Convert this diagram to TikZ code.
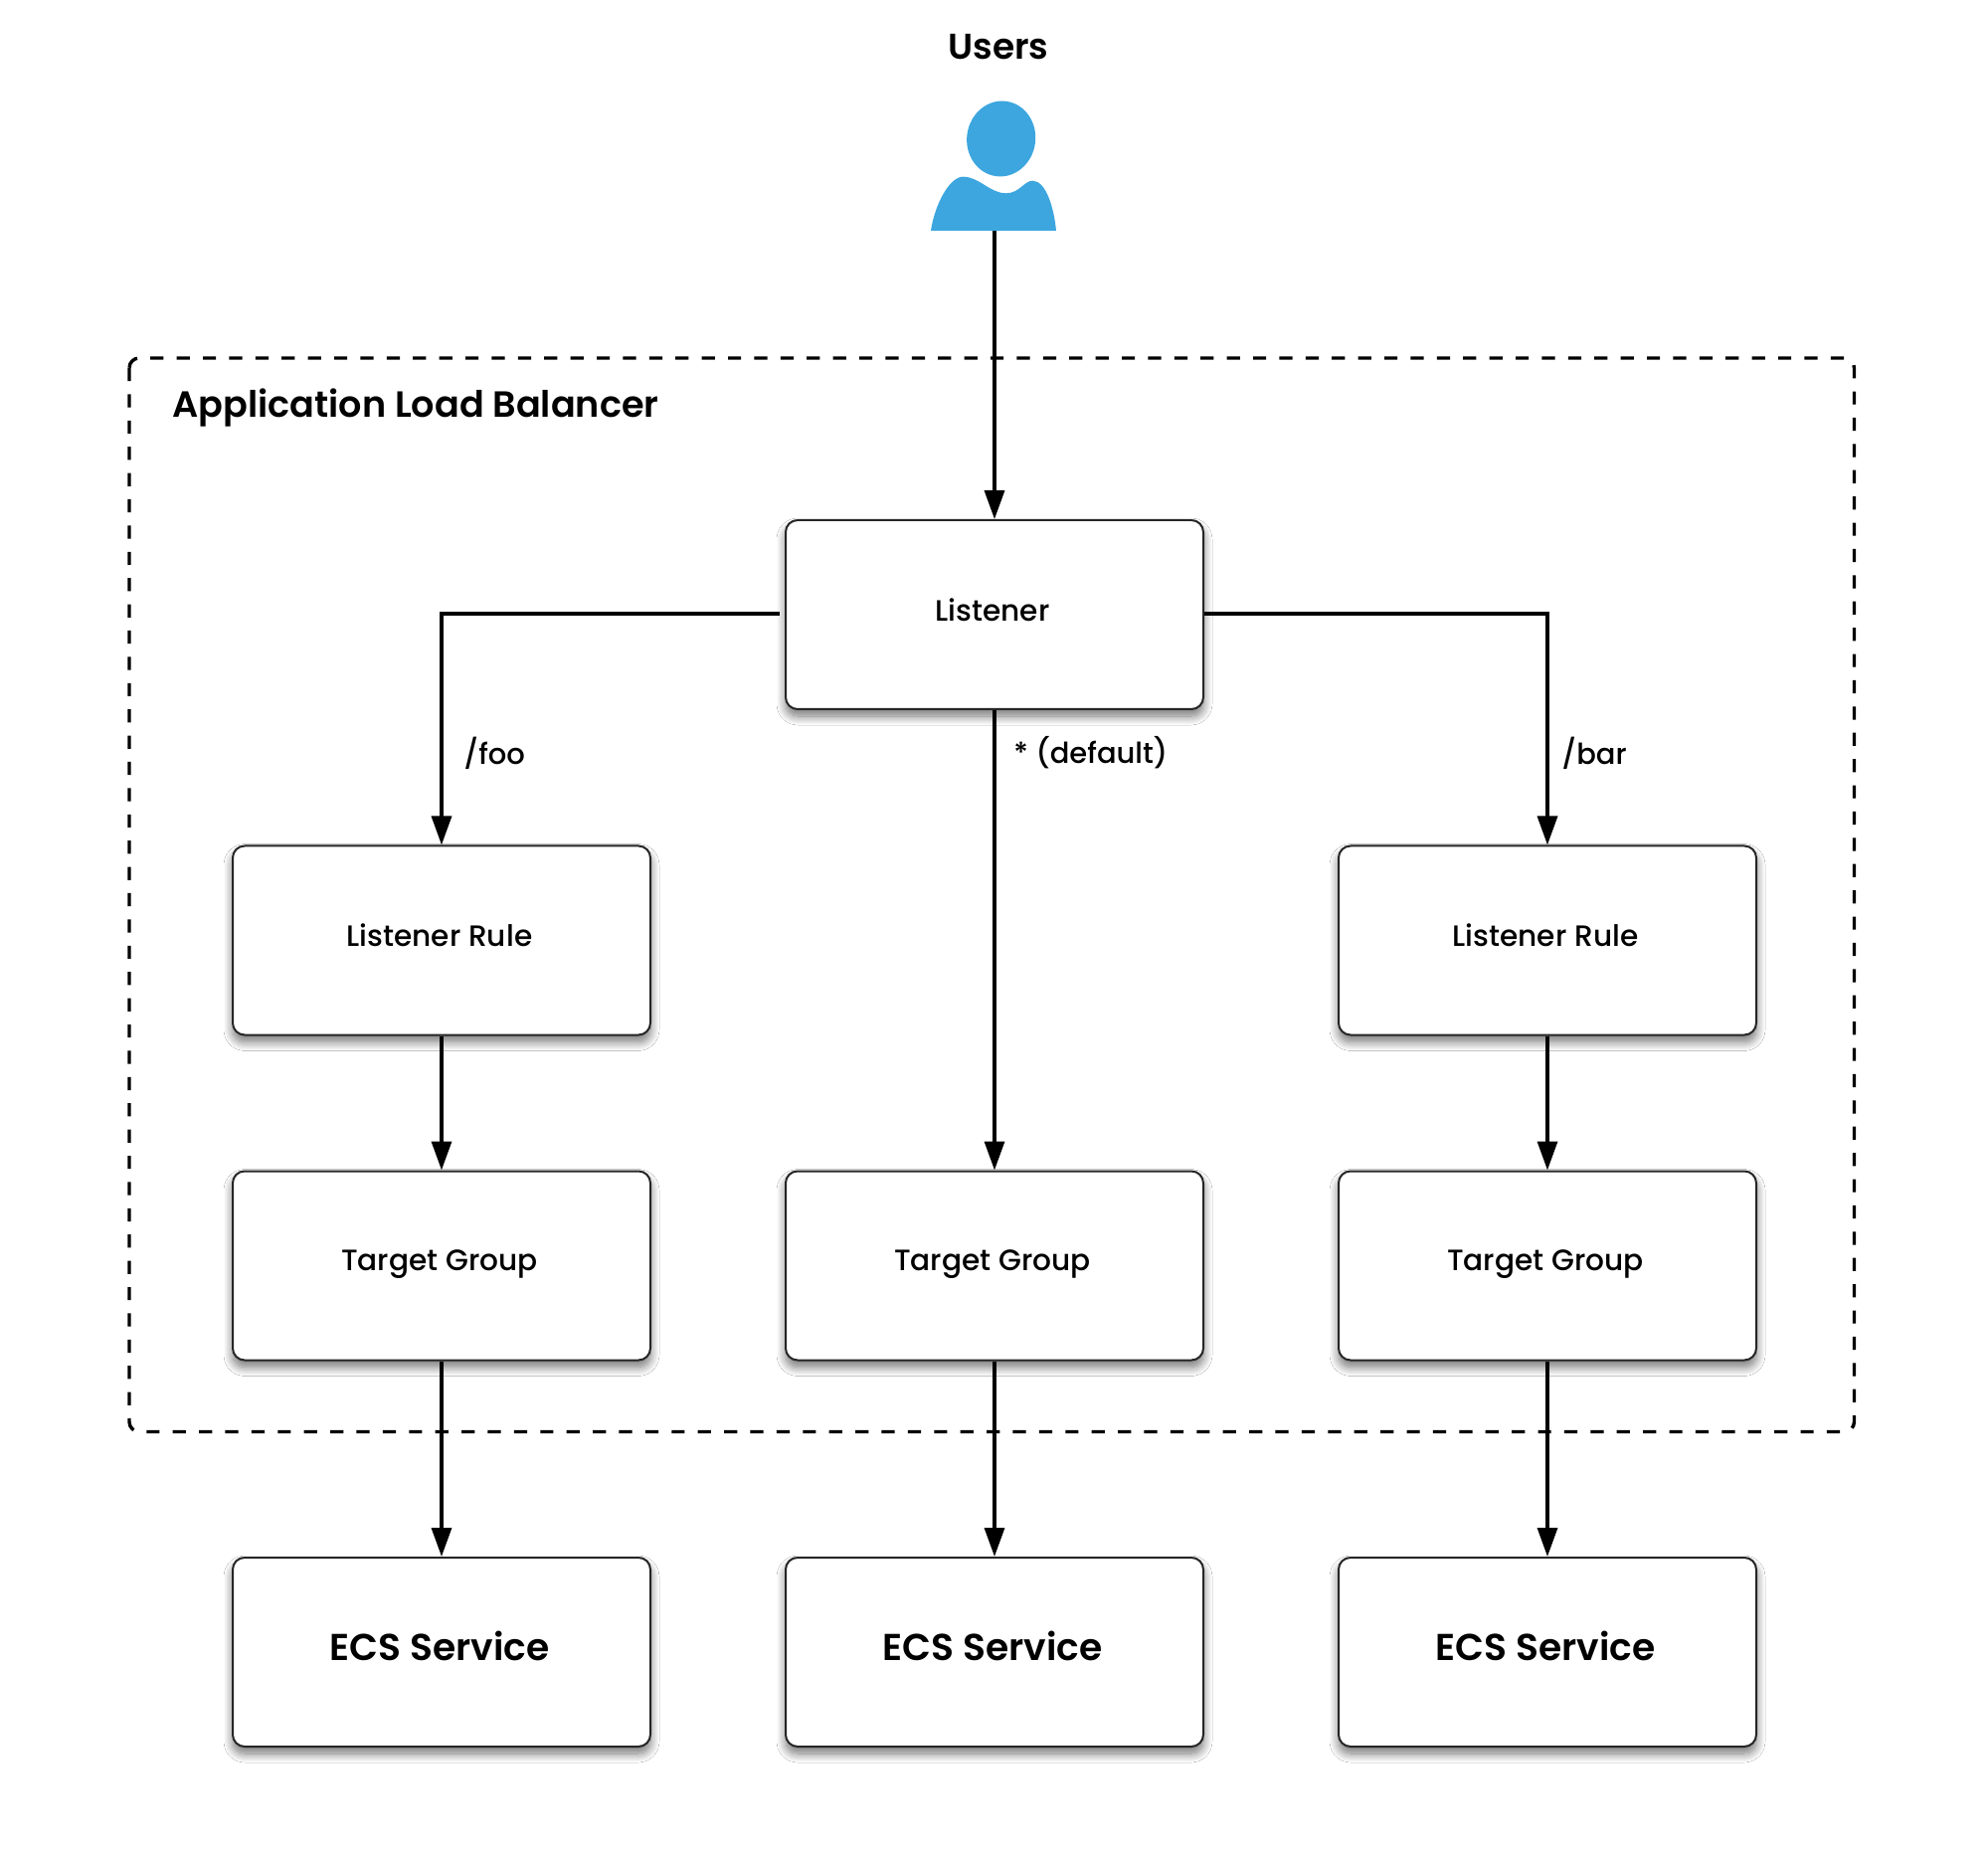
\documentclass[tikz,border=0pt]{standalone}
\usepackage{fontspec}
\setmainfont{Poppins}
\newfontfamily\boldf{Poppins SemiBold}
\newfontfamily\medf{Poppins Medium}
\usetikzlibrary{arrows.meta,shadows.blur}
\definecolor{userblue}{HTML}{3DA6DF}
\tikzset{
  x=0.5pt,y=-0.5pt,
  boxstyle/.style={draw=black!85,line width=1pt,fill=white,rounded corners=6pt,
    minimum width=210pt,minimum height=95pt,inner sep=0pt,
    blur shadow={shadow xshift=0pt,shadow yshift=-3.5pt,shadow blur radius=4.5pt,shadow opacity=55,shadow blur steps=12}},
  smalltxt/.style={font=\medf\fontsize{14.8}{16}\selectfont},
  bigtxt/.style={font=\boldf\fontsize{18.8}{20}\selectfont},
  conn/.style={draw=black,line width=1.7pt,-{Triangle[length=14.5pt,width=10pt]}},
  edgelabel/.style={anchor=west,inner sep=0pt,font=\medf\fontsize{14.5}{16}\selectfont},
  headline/.style={anchor=west,inner sep=0pt,font=\boldf\fontsize{18.3}{20}\selectfont}
}
\begin{document}
\begin{tikzpicture}
\useasboundingbox (0,0) rectangle (1999,1861);
\fill[white] (0,0) rectangle (1999,1861);
% group
\draw[black,line width=1.7pt,dash pattern=on 6.6pt off 6.6pt,rounded corners=5pt] (130,360) rectangle (1864.5,1439.5);
\node[headline] (alb) at (173,410) {Application Load Balancer};
% user icon
\node[anchor=center,inner sep=0pt,font=\boldf\fontsize{18}{20}\selectfont] (usrs) at (1004,47) {Users};
\fill[userblue,rotate around={-8:(1006.7,139.5)}] (1006.7,139.5) ellipse [x radius=34.5,y radius=38];
\fill[userblue] (936,232) .. controls (940,205) and (955,177.7) .. (968.3,177.7)
  .. controls (985,177.7) and (995,194.3) .. (1011.7,194.3)
  .. controls (1025,194.3) and (1030,181.7) .. (1038.3,181.7)
  .. controls (1052,181.7) and (1060,210) .. (1062,232) -- cycle;
\coordinate (user) at (1000,232);
% boxes
\newcommand{\smalllabel}[1]{\raisebox{5pt}{\hspace*{-2pt}#1}}
\newcommand{\biglabel}[1]{\raisebox{6pt}{\hspace*{-2pt}#1}}
\node[boxstyle,smalltxt] (listener) at (1000,618) {\smalllabel{Listener}};
\node[boxstyle,smalltxt] (rulea) at (444,945.5) {\smalllabel{Listener Rule}};
\node[boxstyle,smalltxt] (ruleb) at (1556,945.5) {\smalllabel{Listener Rule}};
\node[boxstyle,smalltxt] (tga) at (444,1272.5) {\smalllabel{Target Group}};
\node[boxstyle,smalltxt] (tgb) at (1000,1272.5) {\smalllabel{Target Group}};
\node[boxstyle,smalltxt] (tgc) at (1556,1272.5) {\smalllabel{Target Group}};
\node[boxstyle,bigtxt] (ecsa) at (444,1661) {\biglabel{ECS Service}};
\node[boxstyle,bigtxt] (ecsb) at (1000,1661) {\biglabel{ECS Service}};
\node[boxstyle,bigtxt] (ecsc) at (1556,1661) {\biglabel{ECS Service}};
% connectors
\coordinate (lw) at ([xshift=-2.5pt,yshift=0.5pt]listener.west);
\coordinate (le) at ([yshift=0.5pt]listener.east);
\draw[conn] (user) -- (listener.north);
\draw[conn] (lw) -| (rulea.north);
\draw[conn] (le) -| (ruleb.north);
\draw[conn] (listener.south) -- (tgb.north);
\draw[conn] (rulea.south) -- (tga.north);
\draw[conn] (ruleb.south) -- (tgc.north);
\draw[conn] (tga.south) -- (ecsa.north);
\draw[conn] (tgb.south) -- (ecsb.north);
\draw[conn] (tgc.south) -- (ecsc.north);
% labels
\node[edgelabel] (foo) at (466,757) {/foo};
\node[edgelabel] (def) at (1019,757) {* (default)};
\node[edgelabel] (bar) at (1570,757) {/bar};
\end{tikzpicture}
\end{document}
